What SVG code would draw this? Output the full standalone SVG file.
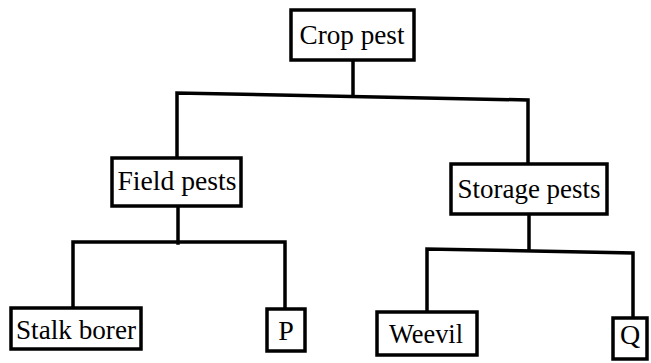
<svg xmlns="http://www.w3.org/2000/svg" width="651" height="363" viewBox="0 0 651 363">
<style>
.box{fill:#fff;stroke:#000;stroke-width:3.5}
.lbl{font-family:"Liberation Serif","Times New Roman",serif;font-size:28px;fill:#000;text-anchor:middle}
.ln{fill:none;stroke:#000;stroke-width:3.5;stroke-linejoin:miter;stroke-linecap:square}
</style>
<rect width="651" height="363" fill="#fff"/>
<g id="connectors">
<path class="ln" d="M353,60 V95"/>
<path class="ln" d="M177,158 V93 L528,100 V164"/>
<path class="ln" d="M178,206 V243"/>
<path class="ln" d="M73,308 V242 H285 V309"/>
<path class="ln" d="M529,214 V250"/>
<path class="ln" d="M427,312 V249 L633,253 V318"/>
</g>
<g id="crop-pest"><rect class="box" x="291" y="10" width="123" height="50"/><text class="lbl" x="352" y="44" textLength="105" lengthAdjust="spacingAndGlyphs">Crop pest</text></g>
<g id="field-pests"><rect class="box" x="112" y="158" width="129" height="48"/><text class="lbl" x="177" y="190" textLength="119" lengthAdjust="spacingAndGlyphs">Field pests</text></g>
<g id="storage-pests"><rect class="box" x="451" y="164" width="156" height="50"/><text class="lbl" x="529" y="198" textLength="143" lengthAdjust="spacingAndGlyphs">Storage pests</text></g>
<g id="stalk-borer"><rect class="box" x="11" y="308" width="130" height="41"/><text class="lbl" x="76" y="339" textLength="120" lengthAdjust="spacingAndGlyphs">Stalk borer</text></g>
<g id="p"><rect class="box" x="267" y="309" width="38" height="42"/><text class="lbl" x="286" y="340">P</text></g>
<g id="weevil"><rect class="box" x="377" y="312" width="100" height="43"/><text class="lbl" x="426" y="343" textLength="74" lengthAdjust="spacingAndGlyphs">Weevil</text></g>
<g id="q"><rect class="box" x="613" y="318" width="34" height="41"/><text class="lbl" x="630" y="344">Q</text></g>
</svg>
